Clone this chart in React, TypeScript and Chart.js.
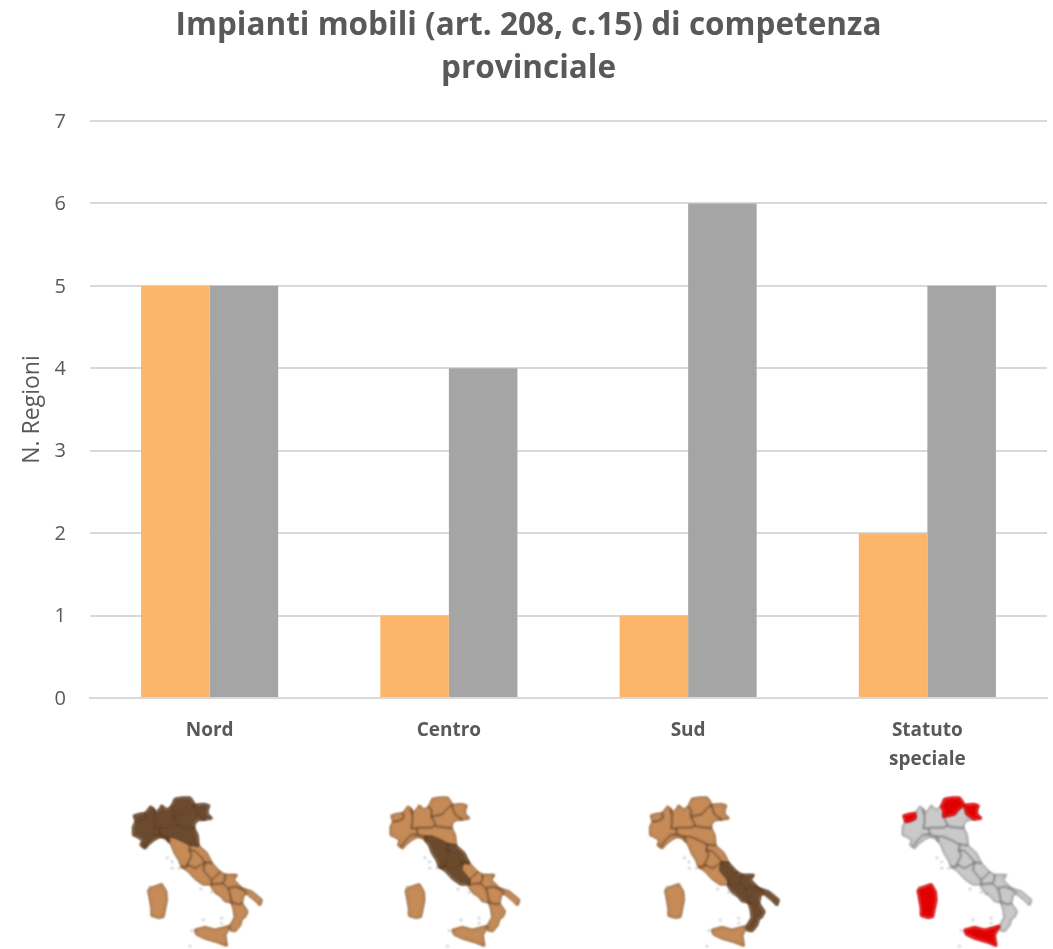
import React, { useEffect, useRef } from "react";
import { Chart, registerables } from "chart.js";

Chart.register(...registerables);

const categories = ["Nord", "Centro", "Sud", ["Statuto", "speciale"]];
const seriesOrange = [5, 1, 1, 2];
const seriesGrey = [5, 4, 6, 5];
const titleLines = ["Impianti mobili (art. 208, c.15) di competenza", "provinciale"];
const axisTitle = "N. Regioni";
const FONT = '"Open Sans", sans-serif';

type Pt = number[];
// Outlines of the Italian regions, in a 510x492 design space.
const regions: Record<string, Pt[]> = {
  aosta: [[72,92],[90,87],[107,85],[108,100],[92,108],[78,110]],
  piemonte: [[107,85],[122,65],[130,72],[135,90],[135,110],[132,130],[148,130],[150,148],[130,150],[115,165],[100,185],[92,180],[98,165],[82,155],[70,150],[70,125],[78,110],[92,108],[108,100]],
  lombardia: [[130,72],[135,85],[150,72],[155,62],[170,75],[185,65],[192,75],[192,95],[205,122],[190,128],[155,128],[148,130],[132,130],[135,110],[135,90]],
  trentino: [[185,65],[195,42],[218,38],[240,38],[250,52],[252,60],[235,75],[225,88],[205,92],[192,95],[192,75]],
  friuli: [[252,60],[285,58],[297,62],[292,75],[292,88],[305,100],[285,103],[262,88],[258,75]],
  veneto: [[252,60],[258,75],[262,88],[285,103],[262,105],[252,118],[252,130],[210,125],[205,122],[192,95],[205,92],[225,88],[235,75]],
  emilia: [[148,130],[155,128],[190,128],[205,122],[210,125],[252,130],[262,150],[265,182],[240,178],[215,165],[190,155],[172,155],[150,148]],
  liguria: [[100,185],[115,165],[130,150],[150,148],[172,155],[178,170],[165,158],[150,155],[135,162],[115,178],[105,190]],
  toscana: [[172,155],[190,155],[215,165],[240,178],[238,195],[245,212],[232,238],[232,245],[215,245],[208,225],[195,205],[185,180],[178,170]],
  marche: [[240,178],[265,182],[290,205],[305,235],[285,232],[270,212],[255,198],[238,195]],
  umbria: [[238,195],[255,198],[270,212],[285,232],[272,240],[255,250],[232,238],[245,212]],
  lazio: [[215,245],[232,245],[232,238],[255,250],[272,240],[285,232],[280,255],[305,285],[305,298],[280,298],[255,280],[235,258]],
  abruzzo: [[285,232],[305,235],[330,262],[310,280],[305,285],[280,255]],
  molise: [[305,285],[310,280],[330,262],[345,270],[345,285],[338,295],[305,298]],
  campania: [[305,298],[338,295],[355,310],[360,325],[365,352],[345,348],[335,335],[315,320],[305,305]],
  puglia: [[345,270],[380,270],[370,285],[395,310],[425,320],[455,345],[450,360],[435,345],[410,325],[395,312],[375,305],[355,310],[338,295],[345,285]],
  basilicata: [[355,310],[375,305],[395,312],[410,325],[400,330],[395,355],[385,358],[365,352],[360,325]],
  calabria: [[365,352],[385,358],[395,355],[412,380],[405,395],[395,402],[390,420],[375,438],[360,435],[362,420],[375,398],[372,375]],
  sicilia: [[255,435],[285,427],[315,435],[360,423],[345,450],[350,482],[320,470],[285,460],[260,448]],
  sardegna: [[120,310],[135,305],[155,298],[168,320],[170,345],[160,395],[145,398],[125,392],[125,370],[118,330],[115,318]],
};
const islets: Pt[] = [[172,218],[186,231],[187,250],[208,250],[120,306],[272,312],[305,322],[320,327],[280,405],[335,400],[335,415],[245,437],[240,484]];

const northRegions = ["aosta","piemonte","lombardia","trentino","veneto","friuli","liguria","emilia"];
const centreRegions = ["toscana","marche","umbria","lazio"];
const southRegions = ["abruzzo","molise","campania","puglia","basilicata","calabria"];
const specialRegions = ["aosta","trentino","friuli","sicilia","sardegna"];

const BROWN = { base: "#C68B57", hi: "#6B4A2E", line: "rgba(84,52,24,0.85)", hiOnTop: false };
const GREY_RED = { base: "#C9C9C9", hi: "#E00000", line: "rgba(90,90,90,0.8)", hiOnTop: true };
const mapPanels = [
  { x: 110, y: 785, highlight: northRegions, palette: BROWN },
  { x: 367.5, y: 785, highlight: centreRegions, palette: BROWN },
  { x: 627, y: 785, highlight: southRegions, palette: BROWN },
  { x: 879.5, y: 785, highlight: specialRegions, palette: GREY_RED },
];

function tracePolygon(ctx: CanvasRenderingContext2D, pts: Pt[]) {
  ctx.beginPath();
  pts.forEach((p, i) => (i ? ctx.lineTo(p[0], p[1]) : ctx.moveTo(p[0], p[1])));
  ctx.closePath();
}

function fillRegion(ctx: CanvasRenderingContext2D, pts: Pt[], colour: string) {
  tracePolygon(ctx, pts);
  ctx.fillStyle = colour;
  ctx.strokeStyle = colour;
  ctx.lineWidth = 6;
  ctx.fill();
  ctx.stroke();
}

const mapsPlugin = {
  id: "italyMaps",
  afterDraw(chart: Chart) {
    const ctx = chart.ctx;
    for (const panel of mapPanels) {
      const { palette, highlight } = panel;
      const entries = Object.entries(regions);
      ctx.save();
      ctx.filter = "blur(0.8px)";
      ctx.translate(panel.x, panel.y);
      ctx.scale(1 / 3, 1 / 3);
      ctx.lineJoin = "round";
      // Plain regions first, swollen a little so the coastline reads as full.
      for (const [name, pts] of entries) {
        if (!highlight.includes(name)) fillRegion(ctx, pts, palette.base);
      }
      if (!palette.hiOnTop) {
        for (const [name, pts] of entries) {
          if (highlight.includes(name)) fillRegion(ctx, pts, palette.hi);
        }
      }
      // Region borders.
      ctx.strokeStyle = palette.line;
      ctx.lineWidth = 2.4;
      for (const [, pts] of entries) {
        tracePolygon(ctx, pts);
        ctx.stroke();
      }
      // Solid highlighted regions cover their own borders.
      if (palette.hiOnTop) {
        for (const [name, pts] of entries) {
          if (highlight.includes(name)) fillRegion(ctx, pts, palette.hi);
        }
      }
      ctx.fillStyle = "#8A8F96";
      for (const p of islets) ctx.fillRect(p[0] - 3, p[1] - 2, 6, 4);
      ctx.restore();
    }
  },
};

export default function App() {
  const ref = useRef<HTMLCanvasElement>(null);
  useEffect(() => {
    const chart = new Chart(ref.current!, {
      type: "bar",
      data: {
        labels: categories as any,
        datasets: [
          { data: seriesOrange, backgroundColor: "#FBB66C", barPercentage: 1, categoryPercentage: 0.573 },
          { data: seriesGrey, backgroundColor: "#A5A5A5", barPercentage: 1, categoryPercentage: 0.573 },
        ],
      },
      options: {
        responsive: false,
        animation: false,
        layout: { padding: { left: 10, right: 6, top: 0, bottom: 0 } },
        plugins: {
          legend: { display: false },
          tooltip: { enabled: false },
          title: {
            display: true,
            text: titleLines,
            color: "#595959",
            font: { family: FONT, size: 31.5, weight: "bold", lineHeight: 43 / 31.5 },
            padding: { top: 5, bottom: 30 },
          },
        },
        scales: {
          x: {
            grid: { display: false },
            border: { display: true, color: "#D9D9D9", width: 2 },
            ticks: {
              color: "#595959",
              font: { family: FONT, size: 19, weight: "bold", lineHeight: 29 / 19 },
              padding: 10,
              maxRotation: 0,
              autoSkip: false,
            },
            afterFit(scale: any) { scale.height = 949 - 698; },
          },
          y: {
            min: 0,
            max: 7,
            grid: { color: "#D9D9D9", lineWidth: 2, drawTicks: false },
            border: { display: false },
            ticks: {
              stepSize: 1,
              color: "#595959",
              font: { family: FONT, size: 20 },
              padding: 24,
              labelOffset: 1,
            },
            title: {
              display: true,
              text: axisTitle,
              color: "#595959",
              font: { family: FONT, size: 23 },
              padding: { top: 9, bottom: 0 },
            },
            afterFit(scale: any) { scale.width = 80; },
          },
        },
      },
      plugins: [mapsPlugin],
    } as any);
    return () => chart.destroy();
  }, []);
  return (
    <div style={{ position: "absolute", left: 0, top: 0, background: "#fff" }}>
      <canvas ref={ref} width={1053} height={949} style={{ display: "block" }} />
    </div>
  );
}
